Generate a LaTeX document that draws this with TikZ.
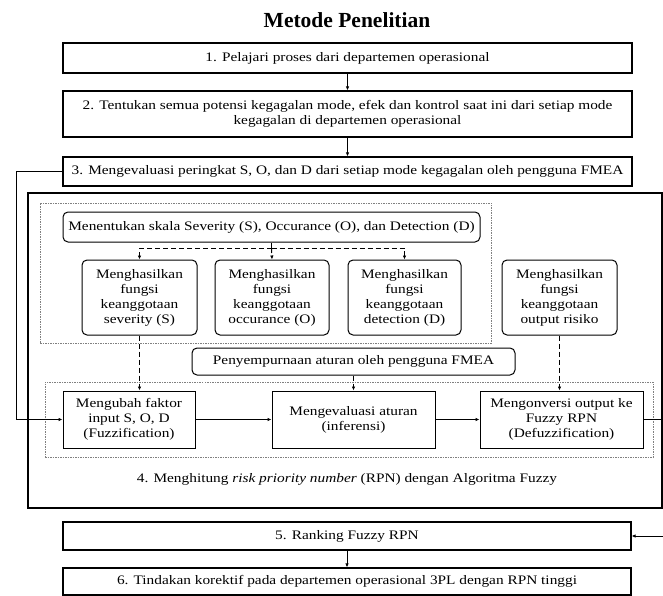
\documentclass[tikz,border=0pt]{standalone}
\usepackage{fontspec}
\setmainfont[FakeStretch=1.18]{Liberation Serif}
\newfontfamily\titlefont{Liberation Serif}
\usetikzlibrary{arrows.meta}
\begin{document}
\begin{tikzpicture}[x=1pt,y=-1pt,
  every node/.style={font=\fontsize{13}{15}\selectfont, align=center, inner sep=0pt},
  mainbox/.style={draw, line width=1.2pt, rectangle},
  rbox/.style={draw, line width=1pt, rounded corners=5pt},
  sbox/.style={draw, line width=1pt},
  grp/.style={draw=gray, line width=0.9pt, dash pattern=on 1.5pt off 1pt},
  arr/.style={line width=1pt, -{Latex[length=4pt,width=3.5pt]}},
  dl/.style={line width=1pt, dash pattern=on 5pt off 3pt},
  darr/.style={arr, dash pattern=on 5pt off 3pt},
]
\useasboundingbox (0,0) rectangle (663,596);
\node[font=\titlefont\fontsize{21.5}{26}\selectfont\bfseries] (title) at (347,20) {Metode Penelitian};
\node[mainbox, minimum width=569pt, minimum height=30pt] (b1) at (347.5,58) {1. Pelajari proses dari departemen operasional};
\node[mainbox, minimum width=569pt, minimum height=46pt] (b2) at (347.5,114) {2. Tentukan semua potensi kegagalan mode, efek dan kontrol saat ini dari setiap mode\\ kegagalan di departemen operasional};
\node[mainbox, minimum width=569pt, minimum height=29pt] (b3) at (347.5,171.5) {3. Mengevaluasi peringkat S, O, dan D dari setiap mode kegagalan oleh pengguna FMEA};
\node[mainbox, minimum width=634pt, minimum height=315pt] (b4) at (345,350.5) {};
\node (l4) at (347,479) {4. Menghitung \textit{risk priority number} (RPN) dengan Algoritma Fuzzy};
\node[grp, minimum width=451pt, minimum height=140pt] (ga) at (265.5,273) {};
\node[rbox, minimum width=417pt, minimum height=30pt] (men) at (271.5,227) {Menentukan skala Severity (S), Occurance (O), dan Detection (D)};
\node[rbox, minimum width=115pt, minimum height=75pt] (bs) at (139.5,297.5) {Menghasilkan\\ fungsi\\ keanggotaan\\ severity (S)};
\node[rbox, minimum width=114pt, minimum height=75pt] (bo) at (272,297.5) {Menghasilkan\\ fungsi\\ keanggotaan\\ occurance (O)};
\node[rbox, minimum width=113pt, minimum height=75pt] (bd) at (404.5,297.5) {Menghasilkan\\ fungsi\\ keanggotaan\\ detection (D)};
\node[rbox, minimum width=115pt, minimum height=75pt] (bout) at (559.5,297.5) {Menghasilkan\\ fungsi\\ keanggotaan\\ output risiko};
\node[rbox, minimum width=323pt, minimum height=27pt] (pen) at (353.5,361.5) {Penyempurnaan aturan oleh pengguna FMEA};
\node[grp, minimum width=608pt, minimum height=75pt] (gb) at (349,419.5) {};
\node[sbox, minimum width=132pt, minimum height=57pt] (fuz) at (129,419.5) {Mengubah faktor\\ input S, O, D\\ (Fuzzification)};
\node[sbox, minimum width=163pt, minimum height=57pt] (inf) at (353.5,419.5) {Mengevaluasi aturan\\ (inferensi)};
\node[sbox, minimum width=163pt, minimum height=57pt] (def) at (561.5,419.5) {Mengonversi output ke\\ Fuzzy RPN\\ (Defuzzification)};
\node[mainbox, minimum width=568pt, minimum height=28pt] (b5) at (347,536) {5. Ranking Fuzzy RPN};
\node[mainbox, minimum width=568pt, minimum height=27pt] (b6) at (347,581.5) {6. Tindakan korektif pada departemen operasional 3PL dengan RPN tinggi};
% connectors
\draw[arr] (b1) -- (b2);
\draw[arr] (b2) -- (b3);
\draw[arr] (b5) -- (b6);
\coordinate (fl) at (16,171.5);
\draw[arr] (b3.west) -- (fl) |- (fuz.west);
\draw[arr] (fuz) -- (inf);
\draw[arr] (inf) -- (def);
\coordinate (fr) at (672,419.5);
\draw[arr] (def.east) -- (fr) |- (b5.east);
\coordinate (sp) at (271.5,248);
\draw[dl] (men.south) -- (sp);
\draw[darr] (sp) -| (bs.north);
\draw[darr] (sp) -- (bo.north);
\draw[darr] (sp) -| (bd.north);
\draw[darr] (bs.south) -- (bs.south |- fuz.north);
\draw[darr] (pen.south) -- (inf.north);
\draw[darr] (bout.south) -- (bout.south |- def.north);
\end{tikzpicture}
\end{document}
